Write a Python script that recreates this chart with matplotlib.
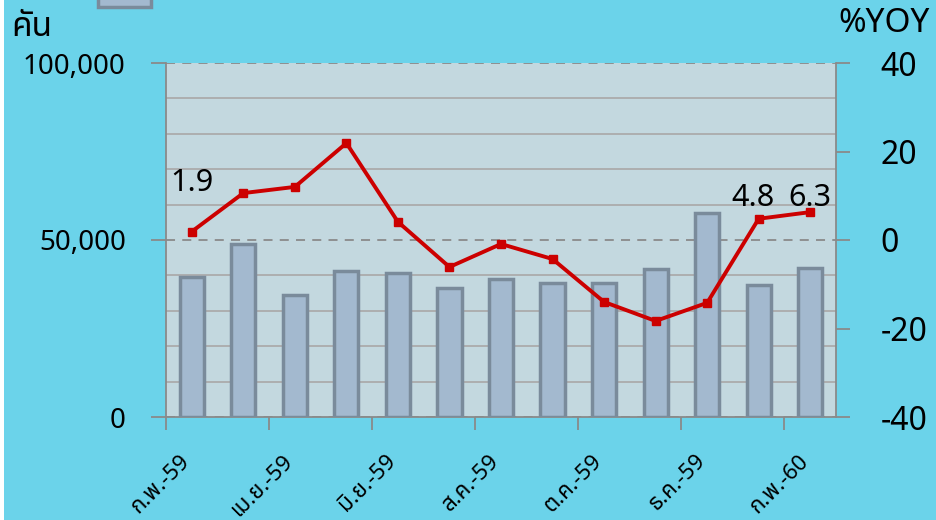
import matplotlib
matplotlib.use('Agg')
import matplotlib.pyplot as plt
from matplotlib.patches import Rectangle
from matplotlib.transforms import ScaledTranslation

plt.rcParams['font.family'] = ['Noto Sans Thai', 'Noto Sans Thai UI', 'Loma', 'Garuda',
                               'Tlwg Typo', 'Norasi', 'Tahoma', 'DejaVu Sans']

# data
months = ['ก.พ.-59', 'มี.ค.-59', 'เม.ย.-59', 'พ.ค.-59', 'มิ.ย.-59', 'ก.ค.-59', 'ส.ค.-59',
          'ก.ย.-59', 'ต.ค.-59', 'พ.ย.-59', 'ธ.ค.-59', 'ม.ค.-60', 'ก.พ.-60']
units = [39500, 48900, 34500, 41200, 40700, 36400, 39000, 37900, 37900, 41800, 57600, 37300, 42100]
yoy = [1.9, 10.6, 12.0, 21.9, 4.1, -6.1, -0.9, -4.3, -14.0, -18.3, -14.2, 4.8, 6.3]
yoy_labels = {0: '1.9', 11: '4.8', 12: '6.3'}

bg = '#6BD3EA'
fig = plt.figure(figsize=(9.37, 5.2), dpi=100, facecolor=bg)
ax = fig.add_axes([166/937, 103/520, 670/937, 354/520])
ax.set_facecolor('#C3D8DF')

x = list(range(len(months)))
ax.bar(x, units, width=0.47, color='#A3B9CF', edgecolor='#7A8B9B', linewidth=2.5, zorder=3)
ax.set_xlim(-0.5, 12.5)
ax.set_ylim(0, 100000)

# gridlines
ax.set_yticks([0, 50000, 100000], ['0', '50,000', '100,000'])
ax.set_yticks([v for v in range(10000, 100000, 10000) if v != 50000], minor=True)
ax.grid(axis='y', which='minor', color='#ABABAB', lw=1.3, zorder=1)
ax.grid(axis='y', which='major', color='#8A8A8A', lw=1.3, ls=(0, (5, 4)), zorder=1)
ax.tick_params(axis='y', which='minor', length=0)
ax.tick_params(axis='y', which='major', length=11, width=1.3, color='#8A8A8A',
               labelsize=20, pad=18)

# x axis: ticks on boundaries, labels on every other month
ax.set_xticks([i - 0.5 for i in x[::2]])
ax.set_xticklabels([])
ax.tick_params(axis='x', which='major', length=9, width=1.3, color='#8A8A8A')
ax.set_xticks(x[::2], minor=True)
ax.set_xticklabels(months[::2], minor=True, rotation=45, ha='right',
                   rotation_mode='anchor', fontsize=16)
ax.tick_params(axis='x', which='minor', length=0, pad=24)
for lab in ax.get_xticklabels(minor=True):
    lab.set_transform(lab.get_transform() + ScaledTranslation(-9/72, 0, fig.dpi_scale_trans))

for s in ['top', 'right']:
    ax.spines[s].set_visible(False)
for s in ['left', 'bottom']:
    ax.spines[s].set_color('#8A8A8A')
    ax.spines[s].set_linewidth(1.3)

ax2 = ax.twinx()
ax2.plot(x, yoy, color='#CC0000', lw=2.8, marker='s', ms=6, zorder=5)
ax2.set_ylim(-40, 40)
ax2.set_yticks([-40, -20, 0, 20, 40])
ax2.tick_params(axis='y', length=10, width=1.3, color='#8A8A8A', labelsize=23, pad=22)
for s in ['top', 'left', 'bottom']:
    ax2.spines[s].set_visible(False)
ax2.spines['right'].set_color('#8A8A8A')
ax2.spines['right'].set_linewidth(1.3)

offsets = {0: (0, 35), 11: (-4, 15), 12: (0, 10)}
for i, t in yoy_labels.items():
    ax2.annotate(t, (x[i], yoy[i]), xytext=offsets[i], textcoords='offset points',
                 ha='center', va='center', fontsize=22)

fig.text(11/937, 1 - 27/520, 'คัน', fontsize=24, fontweight='bold', va='center', ha='left')
fig.text(884/937, 1 - 23/520, '%YOY', fontsize=24, va='center', ha='center')

# clipped legend swatch at the top and white sliver on the left edge
fig.patches.append(Rectangle((98/937, 1 - 7/520), 53/937, 0.05, transform=fig.transFigure,
                             facecolor='#A3B9CF', edgecolor='#7A8B9B', lw=2.5))
fig.patches.append(Rectangle((0, 0), 4/937, 1, transform=fig.transFigure,
                             facecolor='white', edgecolor='none'))

fig.savefig('out.png', dpi=100, facecolor=bg)
